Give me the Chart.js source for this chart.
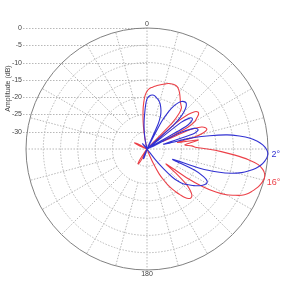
<!DOCTYPE html>
<html>
<head>
<meta charset="utf-8">
<script src="https://cdn.jsdelivr.net/npm/chart.js@4/dist/chart.umd.min.js"></script>
<style>
  html, body { margin: 0; padding: 0; background: #fff; }
  canvas { display: block; }
</style>
</head>
<body>
<canvas id="c" width="300" height="285"></canvas>
<script>
// Angle step of the sampled pattern (degrees, clockwise from top)
const angleStep = 2;
const angleLabels = Array.from({ length: 360 / angleStep }, (_, i) => String(i * angleStep));

// Series names
const seriesNames = ['2°', '16°'];

// Amplitude (dB) of the 2° pattern, one value every 2°, starting at 0° (top)
const amp2 = [
  -20.5, -19.8, -19.4, -19.3, -19.4, -19.8, -20.2, -20.7, -21.3, -22.2, -23.2, -24.5, -27, -35, -26,      // 0-28
  -22.5, -20.3, -18.9, -18, -17.6, -17.5, -18, -19.2, -21, -24.5, -35, -22.5, -19.8, -19.2, -19.8,        // 30-58
  -22, -35, -24, -20.5, -19.3, -19.3, -21, -30, -22, -16.5, -11.5, -8, -5, -3, -1.5,                      // 60-88
  -0.5, 0, -0.2, -0.8, -1.7, -3, -4.8, -6.8, -9.5, -13.5, -18.5, -27, -20, -16.8, -15.3,                  // 90-118
  -15.1, -15.5, -16.1, -16.9, -17.8, -18.8, -19.7, -20.5, -22, -24, -27.5, -31, -35, -35, -35,            // 120-148
  -35, -35, -35, -35, -35, -35, -35, -35, -35, -35, -35, -35, -35, -35, -35,                              // 150-178
  -35, -35, -35, -35, -35, -35, -35, -35, -34, -32.5, -32, -32.5, -34, -35, -35,                          // 180-208
  -35, -35, -35, -35, -35, -35, -35, -35, -35, -35, -35, -35, -35, -35, -35,                              // 210-238
  -35, -35, -35, -35, -35, -35, -35, -35, -35, -35, -35, -35, -35, -35, -35,                              // 240-268
  -35, -35, -35, -35, -35, -35, -35, -35, -35, -35, -35, -35, -35, -35, -35,                              // 270-298
  -35, -35, -35, -35, -35, -35, -35, -35, -35, -34, -33, -33.5, -35, -35, -35,                            // 300-328
  -35, -35, -35, -35, -35, -35, -35, -35, -35, -33, -31, -29, -27, -25, -22.5                             // 330-358
];

// Amplitude (dB) of the 16° pattern, one value every 2°, starting at 0° (top)
const amp16 = [
  -18.3, -17.6, -17.2, -16.9, -16.6, -16.3, -16, -15.7, -15.4, -15.1, -14.9, -14.8, -14.8, -15, -15.5,    // 0-28
  -16.2, -17, -17.8, -18.5, -19, -19.5, -21, -24.5, -35, -24, -19.5, -17.5, -16.8, -17, -18,              // 30-58
  -19, -21.5, -30, -21, -18, -17, -16.8, -18, -21, -26, -20, -22.5, -24, -22, -21,                        // 60-88
  -17.5, -13.5, -9.5, -5.5, -2.5, -1, -0.2, 0, -0.3, -0.8, -1.5, -2.3, -3.2, -4.5, -6.5,                  // 90-118
  -8.5, -11.5, -15.5, -21, -28, -24, -19.5, -17.5, -16.3, -16, -16.3, -17.2, -18.6, -20, -21.5,           // 120-148
  -23, -25, -27, -30, -33, -35, -35, -35, -35, -35, -35, -35, -35, -35, -35,                              // 150-178
  -35, -35, -35, -35, -35, -35, -35, -35, -35, -35, -35, -35, -35, -33, -31,                              // 180-208
  -30, -30.2, -31.5, -33.5, -35, -35, -35, -35, -35, -35, -35, -35, -35, -35, -35,                        // 210-238
  -35, -35, -35, -35, -35, -35, -35, -35, -35, -35, -35, -35, -35, -35, -35,                              // 240-268
  -35, -35, -35, -35, -35, -35, -35, -35, -35, -35, -35, -33.5, -32, -31, -31.5,                          // 270-298
  -33, -35, -35, -35, -35, -35, -35, -35, -35, -35, -35, -35, -35, -35, -35,                              // 300-328
  -35, -35, -35, -35, -35, -35, -35, -35, -35, -33, -30, -27, -24, -21.5, -19.5                           // 330-358
];

// Radial axis range and tick labels
const rMin = -35, rMax = 0, rStep = 5;
const axisTicks = [0, -5, -10, -15, -20, -25, -30];
const spokeAngles = [0, 15, 30, 45, 60, 75, 90, 105, 120, 135, 150, 165, 180, 195, 210, 225, 240, 255, 270, 285, 300, 315, 330, 345];
const cardinalLabels = { 0: '0', 180: '180' };
const seriesLabelAngles = [92.5, 105];
const axisTitle = 'Amplitude (dB)';

const BLUE = 'rgb(50,50,210)';
const RED = 'rgb(236,64,72)';
const FONT = '"Liberation Sans", Arial, sans-serif';

const decor = {
  id: 'decor',
  beforeDatasetsDraw(chart) {
    const s = chart.scales.r, ctx = chart.ctx;
    ctx.save();
    ctx.strokeStyle = '#b8b8b8';
    ctx.lineWidth = 1;
    ctx.setLineDash([1.5, 1.5]);
    // spokes
    for (const deg of spokeAngles) {
      const idx = deg / angleStep;
      const inner = (deg % 90 === 0) ? 0 : s.getDistanceFromCenterForValue(-25);
      const p0 = s.getPointPosition(idx, inner);
      const p1 = s.getPointPosition(idx, s.drawingArea);
      ctx.beginPath();
      ctx.moveTo(p0.x, p0.y);
      ctx.lineTo(p1.x, p1.y);
      ctx.stroke();
    }
    // left amplitude axis guide lines
    for (const t of axisTicks) {
      const y = Math.round(s.getPointPosition(0, s.getDistanceFromCenterForValue(t)).y) + 0.5;
      ctx.beginPath();
      ctx.moveTo(s.xCenter - s.drawingArea - 3, y);
      ctx.lineTo(s.xCenter, y);
      ctx.stroke();
    }
    ctx.setLineDash([]);
    // outer circle
    ctx.strokeStyle = '#808080';
    ctx.lineWidth = 1;
    ctx.beginPath();
    ctx.arc(s.xCenter, s.yCenter, s.drawingArea, 0, Math.PI * 2);
    ctx.stroke();
    // tick labels
    ctx.fillStyle = '#444';
    ctx.font = '7px ' + FONT;
    ctx.textAlign = 'right';
    ctx.textBaseline = 'middle';
    for (const t of axisTicks) {
      const y = s.getPointPosition(0, s.getDistanceFromCenterForValue(t)).y;
      ctx.fillText(String(t), s.xCenter - s.drawingArea - 4, y);
    }
    // axis title
    const yTop = s.getPointPosition(0, s.getDistanceFromCenterForValue(rMax)).y;
    const yMid = (yTop + s.yCenter) / 2;
    ctx.save();
    ctx.translate(8, yMid);
    ctx.rotate(-Math.PI / 2);
    ctx.textAlign = 'center';
    ctx.fillText(axisTitle, 0, 0);
    ctx.restore();
    // cardinal labels
    ctx.textAlign = 'center';
    for (const deg of Object.keys(cardinalLabels)) {
      const p = s.getPointPosition(Number(deg) / angleStep, s.drawingArea + 4);
      ctx.fillText(cardinalLabels[deg], p.x, p.y);
    }
    ctx.restore();
  },
  afterDatasetsDraw(chart) {
    const s = chart.scales.r, ctx = chart.ctx;
    ctx.save();
    ctx.font = '9px ' + FONT;
    ctx.textAlign = 'center';
    ctx.textBaseline = 'middle';
    chart.data.datasets.forEach((ds, i) => {
      const p = s.getPointPosition(seriesLabelAngles[i] / angleStep, s.drawingArea + 8 + i * 2);
      ctx.fillStyle = ds.borderColor;
      ctx.fillText(ds.label, p.x, p.y);
    });
    ctx.restore();
  }
};

new Chart(document.getElementById('c'), {
  type: 'radar',
  data: {
    labels: angleLabels,
    datasets: [
      { label: seriesNames[0], data: amp2, borderColor: BLUE, borderWidth: 1.1, fill: false },
      { label: seriesNames[1], data: amp16, borderColor: RED, borderWidth: 1.1, fill: false }
    ]
  },
  options: {
    responsive: false,
    devicePixelRatio: 1,
    animation: false,
    layout: { padding: { left: 26, right: 32, top: 28, bottom: 15 } },
    elements: {
      point: { radius: 0, hoverRadius: 0 },
      line: { tension: 0.3 }
    },
    plugins: { legend: { display: false }, tooltip: { enabled: false } },
    scales: {
      r: {
        min: rMin, max: rMax,
        ticks: { stepSize: rStep, display: false },
        pointLabels: { display: false },
        angleLines: { display: false },
        grid: {
          circular: true,
          lineWidth: 1,
          color: (ctx) => (ctx.tick && ctx.tick.value === rMax) ? 'rgba(0,0,0,0)' : '#b8b8b8'
        },
        border: { dash: [1.5, 1.5] }
      }
    }
  },
  plugins: [decor]
});
</script>
</body>
</html>
